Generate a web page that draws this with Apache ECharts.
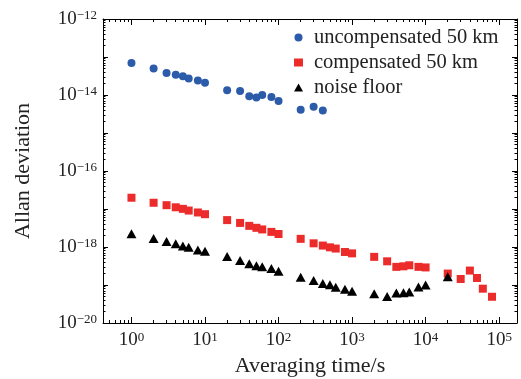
<!DOCTYPE html>
<html>
<head>
<meta charset="utf-8">
<script src="https://cdn.jsdelivr.net/npm/echarts@6/dist/echarts.min.js"></script>
<style>
html, body { margin: 0; padding: 0; background: #fff; }
#chart { width: 521px; height: 379px; }
</style>
</head>
<body>
<div id="chart"></div>
<script>
// averaging times (s), shared by the three series
var tau = [1, 2, 3, 4, 5, 6, 8,
  10, 20, 30, 40, 50, 60, 80,
  100, 200, 300, 400, 500, 600, 800,
  1000, 2000, 3000, 4000, 5000, 6000, 8000,
  10000, 20000, 30000, 40000, 50000, 60000, 80000];

var uncompensated = [7.0e-14, 5.0e-14, 3.8e-14, 3.4e-14, 3.1e-14, 2.7e-14, 2.4e-14,
  2.1e-14, 1.34e-14, 1.28e-14, 9.3e-15, 8.6e-15, 1.0e-14, 8.8e-15,
  7.0e-15, 4.1e-15, 4.9e-15, 3.9e-15];

var compensated = [1.98e-17, 1.46e-17, 1.26e-17, 1.11e-17, 1.01e-17, 9.1e-18, 8.1e-18,
  7.3e-18, 5.1e-18, 4.3e-18, 3.6e-18, 3.2e-18, 2.9e-18, 2.5e-18,
  2.2e-18, 1.64e-18, 1.25e-18, 1.09e-18, 9.8e-19, 9.1e-19, 7.4e-19,
  6.8e-19, 5.5e-19, 4.2e-19, 3.0e-19, 3.1e-19, 3.3e-19, 3.0e-19,
  2.9e-19, 2.0e-19, 1.44e-19, 2.4e-19, 1.53e-19, 8.0e-20, 4.9e-20];

var noiseFloor = [2.22e-18, 1.67e-18, 1.39e-18, 1.21e-18, 1.07e-18, 9.8e-19, 8.4e-19,
  7.7e-19, 5.6e-19, 4.4e-19, 3.6e-19, 3.2e-19, 3.0e-19, 2.7e-19,
  2.3e-19, 1.59e-19, 1.32e-19, 1.1e-19, 1.02e-19, 8.7e-20, 7.7e-20,
  6.8e-20, 5.9e-20, 5.0e-20, 6.2e-20, 6.3e-20, 6.5e-20, 8.9e-20,
  1.0e-19, 1.66e-19];

var seriesNames = ['uncompensated 50 km', 'compensated 50 km', 'noise floor'];

// tick values
var xDecades = [0.1, 1, 10, 100, 1000, 10000, 100000];
var xLabels = [1, 10, 100, 1000, 10000, 100000];
var yDecades = [1e-20, 1e-19, 1e-18, 1e-17, 1e-16, 1e-15, 1e-14, 1e-13, 1e-12];
var yLabels = [1e-20, 1e-18, 1e-16, 1e-14, 1e-12];

var font = 'Liberation Serif';

function minors(decades) {
  var out = [];
  decades.forEach(function (d) {
    for (var k = 2; k <= 9; k++) out.push(d * k);
  });
  return out;
}

function pair(values) {
  return values.map(function (v, i) { return [tau[i], v]; });
}

function powLabel(v) {
  var e = Math.round(Math.log10(v));
  return '{b|10}{s|' + (e < 0 ? '\u2212' + (-e) : e) + '}';
}

var rich = {
  b: { fontFamily: font, fontSize: 19, lineHeight: 19, color: '#222' },
  s: { fontFamily: font, fontSize: 13, lineHeight: 13, color: '#222', verticalAlign: 'top' }
};

function axis(pos, major, min, max, extra) {
  var a = {
    type: 'log',
    position: pos,
    min: min,
    max: max,
    axisLine: { show: major, onZero: false, lineStyle: { color: '#000', width: 1 } },
    axisLabel: { show: false },
    splitLine: { show: false },
    minorTick: { show: false }
  };
  return Object.assign(a, extra || {});
}

var xMin = 0.41, xMax = 1.75e5, yMin = 1e-20, yMax = 1e-12;

function xAxisSet() {
  var majorTick = { show: true, inside: true, length: 6, customValues: xDecades, lineStyle: { color: '#000' } };
  var minorTick = { show: true, inside: true, length: 3, customValues: minors(xDecades), lineStyle: { color: '#000' } };
  return [
    axis('bottom', true, xMin, xMax, {
      axisTick: majorTick,
      axisLabel: { show: true, customValues: xLabels, margin: 8, formatter: powLabel, rich: rich },
      name: 'Averaging time/s',
      nameLocation: 'middle',
      nameGap: 32,
      nameMoveOverlap: false,
      nameTextStyle: { fontFamily: font, fontSize: 22, color: '#222' }
    }),
    axis('bottom', false, xMin, xMax, { axisTick: minorTick }),
    axis('top', true, xMin, xMax, { axisTick: majorTick }),
    axis('top', false, xMin, xMax, { axisTick: minorTick })
  ];
}

function yAxisSet() {
  var majorTick = { show: true, inside: true, length: 5, customValues: yDecades, lineStyle: { color: '#000' } };
  var minorTick = { show: true, inside: true, length: 2.5, customValues: minors(yDecades), lineStyle: { color: '#000' } };
  return [
    axis('left', true, yMin, yMax, {
      axisTick: majorTick,
      axisLabel: { show: true, customValues: yLabels, margin: 6, formatter: powLabel, rich: rich },
      name: 'Allan deviation',
      nameLocation: 'middle',
      nameGap: 69,
      nameMoveOverlap: false,
      nameTextStyle: { fontFamily: font, fontSize: 22, color: '#222' }
    }),
    axis('left', false, yMin, yMax, { axisTick: minorTick }),
    axis('right', true, yMin, yMax, { axisTick: majorTick }),
    axis('right', false, yMin, yMax, { axisTick: minorTick })
  ];
}

var chart = echarts.init(document.getElementById('chart'), null, { renderer: 'canvas' });

chart.setOption({
  animation: false,
  textStyle: { fontFamily: font },
  grid: { left: 103, right: 4, top: 19, bottom: 56, containLabel: false, outerBoundsMode: 'none' },
  legend: {
    orient: 'vertical',
    left: 294,
    top: 27,
    padding: 0,
    itemWidth: 9,
    itemHeight: 8,
    itemGap: 4,
    data: seriesNames,
    textStyle: { fontFamily: font, fontSize: 20.5, lineHeight: 20, color: '#222', padding: [0, 0, 0, 6] }
  },
  xAxis: xAxisSet(),
  yAxis: yAxisSet(),
  series: [
    {
      name: seriesNames[0],
      type: 'scatter',
      symbol: 'circle',
      symbolSize: 8,
      itemStyle: { color: '#2b5ba9', opacity: 1 },
      data: pair(uncompensated)
    },
    {
      name: seriesNames[1],
      type: 'scatter',
      symbol: 'rect',
      symbolSize: 8,
      itemStyle: { color: '#ec2b2b', opacity: 1 },
      data: pair(compensated)
    },
    {
      name: seriesNames[2],
      type: 'scatter',
      symbol: 'triangle',
      symbolSize: [10, 9],
      itemStyle: { color: '#000', opacity: 1 },
      data: pair(noiseFloor)
    }
  ]
});
</script>
</body>
</html>
